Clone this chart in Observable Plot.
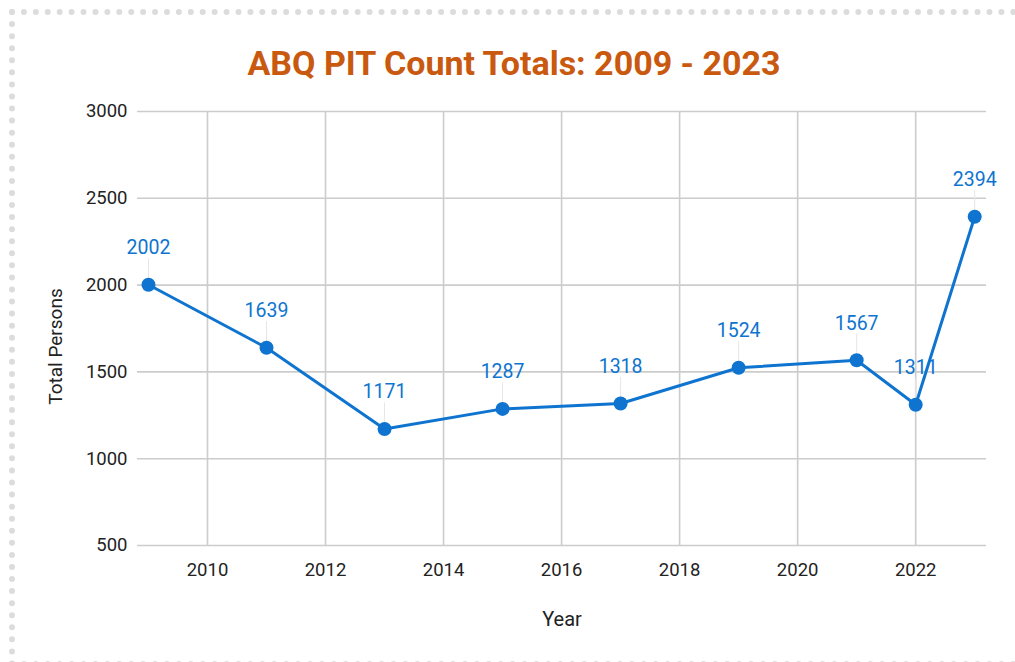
<!DOCTYPE html>
<html><head><meta charset="utf-8">
<script src="https://cdn.jsdelivr.net/npm/d3@7"></script>
<script src="https://cdn.jsdelivr.net/npm/@observablehq/plot@0.6"></script>
<style>
html,body{margin:0;padding:0;background:#fff;width:1015px;height:662px;overflow:hidden;font-family:Roboto,sans-serif;}
#frame{position:absolute;left:9px;top:9px;width:1020px;height:646px;border:6px dotted #dcdcdc;border-radius:2px;}
#title{position:absolute;left:0;top:43px;width:1028px;text-align:center;font:bold 34px Roboto,sans-serif;color:#c9590f;}
#chart{position:absolute;left:0;top:90px;}
</style></head>
<body>
<div id="frame"></div>
<div id="title">ABQ PIT Count Totals: 2009 - 2023</div>
<div id="chart"></div>
<script>
const years = [2009, 2011, 2013, 2015, 2017, 2019, 2021, 2022, 2023];
const totals = [2002, 1639, 1171, 1287, 1318, 1524, 1567, 1311, 2394];
const yTicks = [500, 1000, 1500, 2000, 2500, 3000];
const xTicks = [2010, 2012, 2014, 2016, 2018, 2020, 2022];
const xTitle = "Year";
const yTitle = "Total Persons";
const data = years.map((y, i) => ({year: y, total: totals[i]}));
const blue = "#0e74cf";
const chart = Plot.plot({
  width: 1015,
  height: 560,
  marginLeft: 137,
  marginRight: 29,
  marginTop: 21,
  marginBottom: 105,
  style: {fontFamily: "Roboto, sans-serif", fontSize: "18px", color: "#222", background: "transparent", overflow: "visible"},
  x: {domain: [2008.814, 2023.2], label: null},
  y: {domain: [500, 3000], label: null},
  marks: [
    Plot.gridX(xTicks, {stroke: "#cccccc", strokeOpacity: 1, strokeWidth: 1.6}),
    Plot.gridY(yTicks, {stroke: "#cccccc", strokeOpacity: 1, strokeWidth: 1.6}),
    Plot.axisX({ticks: xTicks, tickSize: 0, tickPadding: 17, fill: "#222", fontSize: 18.5, tickFormat: d => String(d), label: null}),
    Plot.axisY({ticks: yTicks, tickSize: 0, tickPadding: 10, fill: "#222", fontSize: 18.5, tickFormat: d => String(d), label: null}),
    Plot.text([xTitle], {text: d => d, frameAnchor: "bottom", dy: 74, lineAnchor: "middle", textAnchor: "middle", fill: "#222", fontSize: 20}),
    Plot.text([yTitle], {text: d => d, frameAnchor: "left", dx: -82, dy: 18, rotate: -90, lineAnchor: "middle", textAnchor: "middle", fill: "#222", fontSize: 19}),
    Plot.ruleX(data, {x: "year", y1: "total", y2: d => d.total + 150, stroke: "#e6e6e6", strokeWidth: 1}),
    Plot.line(data, {x: "year", y: "total", stroke: blue, strokeWidth: 3}),
    Plot.dot(data, {x: "year", y: "total", r: 7, fill: blue, stroke: "none"}),
    Plot.text(data, {x: "year", y: "total", text: d => String(d.total), dy: -37, fill: blue, fontSize: 19.5})
  ]
});
document.getElementById("chart").appendChild(chart);
</script>
</body></html>
